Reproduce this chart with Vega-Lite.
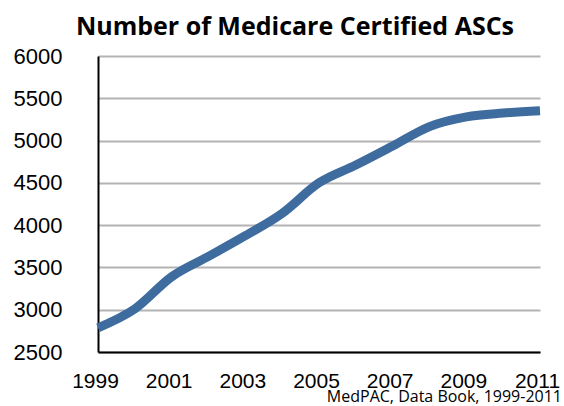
{
  "$schema": "https://vega.github.io/schema/vega-lite/v6.json",
  "width": 442,
  "height": 296,
  "autosize": {"type": "none"},
  "padding": {"left": 98, "top": 56, "right": 24, "bottom": 54},
  "background": "white",
  "title": {
    "text": "Number of Medicare Certified ASCs",
    "font": "Open Sans",
    "fontWeight": "bold",
    "fontSize": 25,
    "color": "black",
    "anchor": "middle",
    "dx": -24,
    "offset": 5
  },
  "config": {
    "view": {"stroke": null},
    "axis": {"labelColor": "black", "labelFont": "Liberation Sans"}
  },
  "layer": [
    {
      "data": {
        "values": [
          {"year": 1999, "ascs": 2786},
          {"year": 2000, "ascs": 3010},
          {"year": 2001, "ascs": 3390},
          {"year": 2002, "ascs": 3630},
          {"year": 2003, "ascs": 3875},
          {"year": 2004, "ascs": 4140},
          {"year": 2005, "ascs": 4500},
          {"year": 2006, "ascs": 4710},
          {"year": 2007, "ascs": 4935},
          {"year": 2008, "ascs": 5165},
          {"year": 2009, "ascs": 5280},
          {"year": 2010, "ascs": 5325},
          {"year": 2011, "ascs": 5352}
        ]
      },
      "mark": {"type": "line", "interpolate": "monotone", "strokeWidth": 9, "color": "#3E6C9F", "strokeCap": "butt"},
      "encoding": {
        "x": {
          "field": "year", "type": "quantitative",
          "scale": {"domain": [1999, 2011], "nice": false, "zero": false},
          "axis": {
            "title": null, "values": [1999, 2001, 2003, 2005, 2007, 2009, 2011],
            "format": "d", "grid": false, "ticks": false,
            "labelFontSize": 21, "labelPadding": 18, "labelOffset": -3, "labelFlush": false, "labelOverlap": false,
            "domainColor": "black", "domainWidth": 2
          }
        },
        "y": {
          "field": "ascs", "type": "quantitative",
          "scale": {"domain": [2500, 6000], "nice": false, "zero": false},
          "axis": {
            "title": null, "values": [2500, 3000, 3500, 4000, 4500, 5000, 5500, 6000],
            "format": "d", "grid": true, "gridColor": "#b3b3b3", "gridWidth": 2,
            "ticks": false, "labelFontSize": 22, "labelPadding": 36, "labelFlush": false,
            "domainColor": "black", "domainWidth": 2
          }
        }
      }
    },
    {
      "data": {"values": [{"year": 2011, "ascs": 2500, "note": "MedPAC, Data Book, 1999-2011"}]},
      "mark": {"type": "text", "align": "right", "baseline": "alphabetic", "font": "Open Sans", "fontWeight": 400, "fontSize": 16, "color": "black", "dx": 22, "dy": 50},
      "encoding": {
        "x": {"field": "year", "type": "quantitative"},
        "y": {"field": "ascs", "type": "quantitative"},
        "text": {"field": "note"}
      }
    }
  ]
}
